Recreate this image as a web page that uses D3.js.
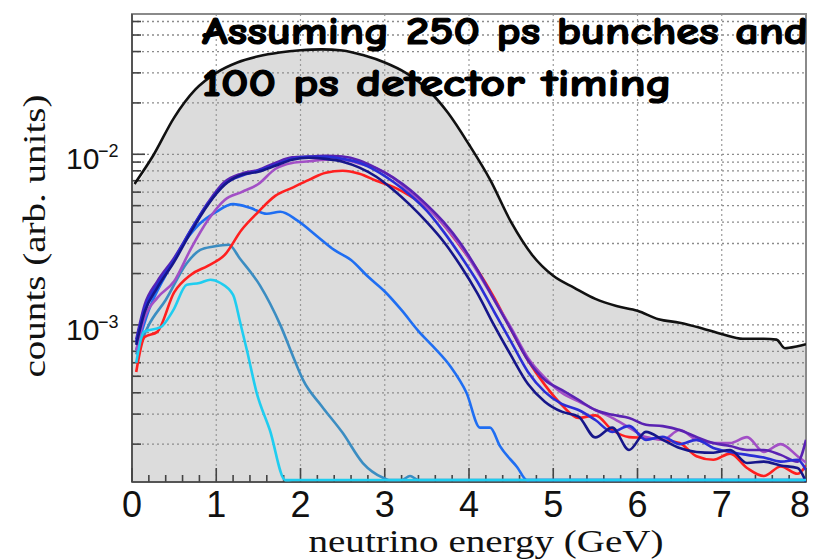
<!DOCTYPE html>
<html>
<head>
<meta charset="utf-8">
<script src="https://cdn.jsdelivr.net/npm/d3@7"></script>
<style>
  body { margin: 0; background: #fff; }
</style>
</head>
<body>
<svg id="chart" width="814" height="560"></svg>
<script>
// ---- data (energy in GeV, counts in arb. units) ----
const energyTotal = [0.03, 0.25, 0.5, 0.75, 1.0, 1.25, 1.5, 1.75, 2.0, 2.25, 2.5, 2.75, 3.0, 3.25, 3.5, 3.75,
  4.0, 4.25, 4.5, 4.75, 5.0, 5.25, 5.5, 5.75, 6.0, 6.25, 6.5, 6.75, 7.0, 7.25, 7.5, 7.65, 7.75, 7.9, 8.0]
const countsTotal = [6.7e-3, 9.8e-3, 1.64e-2, 2.39e-2, 3.0e-2, 3.45e-2, 3.75e-2, 3.95e-2, 4.07e-2, 4.12e-2, 4.06e-2,
  3.8e-2, 3.45e-2, 3.0e-2, 2.42e-2, 1.75e-2, 1.14e-2, 7.1e-3, 4.0e-3, 2.57e-3, 1.94e-3, 1.65e-3, 1.42e-3,
  1.29e-3, 1.21e-3, 1.08e-3, 1.03e-3, 9.6e-4, 8.85e-4, 8.3e-4, 8.3e-4, 8.2e-4, 7.3e-4, 7.5e-4, 7.7e-4]

// shared energy grid of the five upper curves
const energyBundle = [0.05, 0.15, 0.3, 0.5, 0.7, 0.9, 1.1, 1.3, 1.5, 1.7, 1.9, 2.1, 2.3, 2.5, 2.7, 2.9, 3.1, 3.3,
  3.5, 3.7, 3.9, 4.1, 4.3, 4.5, 4.7, 4.9, 5.1, 5.3, 5.5, 5.7, 5.9, 6.1, 6.3, 6.5, 6.7, 6.9, 7.1, 7.3, 7.5, 7.7, 7.9, 8.0]
const countsRed = [5.3e-4, 8.5e-4, 9.1e-4, 1.55e-3, 1.97e-3, 2.22e-3, 2.57e-3, 3.6e-3, 4.6e-3, 5.7e-3, 6.36e-3,
  7.08e-3, 7.8e-3, 8.0e-3, 7.68e-3, 6.99e-3, 6.44e-3, 5.7e-3, 4.9e-3, 3.86e-3, 2.87e-3, 2.1e-3, 1.44e-3, 9.35e-4,
  6.2e-4, 4.45e-4, 3.4e-4, 2.85e-4, 2.95e-4, 2.42e-4, 2.2e-4, 2.18e-4, 2.12e-4, 2.03e-4, 1.7e-4, 1.62e-4, 1.76e-4,
  1.45e-4, 1.3e-4, 1.48e-4, 1.34e-4, 1.5e-4]
const countsViolet = [7.1e-4, 1.1e-3, 1.44e-3, 1.8e-3, 2.8e-3, 4.1e-3, 5.4e-3, 6.0e-3, 6.7e-3, 8.2e-3, 8.9e-3,
  9.1e-3, 9.3e-3, 9.3e-3, 8.8e-3, 8.3e-3, 7.3e-3, 6.0e-3, 4.9e-3, 3.86e-3, 2.9e-3, 2.05e-3, 1.4e-3, 9.6e-4, 6.4e-4,
  4.9e-4, 4.0e-4, 3.56e-4, 3.17e-4, 2.85e-4, 2.5e-4, 2.2e-4, 2.12e-4, 2.42e-4, 2.12e-4, 2.03e-4, 2.03e-4, 2.2e-4,
  1.8e-4, 2.0e-4, 1.7e-4, 1.56e-4]
const countsIndigo = [8.2e-4, 1.31e-3, 1.8e-3, 2.47e-3, 3.6e-3, 5.2e-3, 6.9e-3, 7.7e-3, 8.1e-3, 8.9e-3, 9.6e-3,
  9.7e-3, 9.8e-3, 9.7e-3, 9.2e-3, 8.3e-3, 7.3e-3, 6.2e-3, 5.05e-3, 4.0e-3, 3.0e-3, 2.1e-3, 1.4e-3, 9.35e-4, 6.2e-4,
  4.76e-4, 4.16e-4, 3.63e-4, 3.17e-4, 2.97e-4, 2.85e-4, 2.6e-4, 2.55e-4, 2.42e-4, 2.2e-4, 2.03e-4, 1.95e-4, 1.85e-4,
  1.85e-4, 1.73e-4, 1.58e-4, 2.12e-4]
const countsRoyal = [7.95e-4, 1.26e-3, 1.72e-3, 2.41e-3, 3.61e-3, 5.12e-3, 6.7e-3, 7.48e-3, 8.0e-3, 8.68e-3, 9.4e-3,
  9.67e-3, 9.67e-3, 9.4e-3, 8.92e-3, 8.0e-3, 6.9e-3, 5.78e-3, 4.66e-3, 3.51e-3, 2.54e-3, 1.79e-3, 1.19e-3, 7.95e-4,
  5.3e-4, 4.05e-4, 3.44e-4, 3.17e-4, 2.77e-4, 2.36e-4, 2.56e-4, 2.12e-4, 2.21e-4, 2.0e-4, 2.12e-4, 1.9e-4, 1.8e-4,
  1.73e-4, 1.67e-4, 1.58e-4, 1.62e-4, 1.41e-4]
const countsNavy = [7.64e-4, 1.19e-3, 1.65e-3, 2.34e-3, 3.51e-3, 5.05e-3, 6.62e-3, 7.58e-3, 7.9e-3, 8.56e-3, 9.3e-3,
  9.55e-3, 9.4e-3, 9.05e-3, 8.35e-3, 7.38e-3, 6.19e-3, 5.05e-3, 4.0e-3, 3.07e-3, 2.22e-3, 1.53e-3, 9.9e-4, 6.6e-4,
  4.5e-4, 3.55e-4, 3.1e-4, 2.9e-4, 2.19e-4, 2.5e-4, 1.85e-4, 2.36e-4, 2.12e-4, 1.9e-4, 1.8e-4, 1.78e-4, 1.85e-4,
  1.55e-4, 1.58e-4, 1.5e-4, 1.45e-4, 1.2e-4]

const energyBlue = [0.05, 0.2, 0.4, 0.6, 0.8, 1.0, 1.2, 1.4, 1.6, 1.76, 1.96, 2.2, 2.4, 2.6, 2.8, 3.0, 3.2, 3.4,
  3.57, 3.78, 3.97, 4.13, 4.25, 4.37, 4.57, 4.69, 4.72, 8.0]
const countsBlue = [7.1e-4, 1.22e-3, 1.96e-3, 2.94e-3, 3.9e-3, 4.6e-3, 5.1e-3, 4.86e-3, 4.48e-3, 4.6e-3, 4.1e-3,
  3.3e-3, 2.75e-3, 2.4e-3, 1.92e-3, 1.57e-3, 1.22e-3, 9.2e-4, 7.5e-4, 5.7e-4, 4.0e-4, 2.5e-4, 2.5e-4, 1.94e-4,
  1.47e-4, 1.23e-4, 0, 0]

const energyTeal = [0.05, 0.2, 0.4, 0.65, 0.81, 0.97, 1.15, 1.28, 1.52, 1.76, 1.93, 2.03, 2.25, 2.5, 2.74, 2.98,
  3.05, 3.2, 3.3, 3.4, 8.0]
const countsTeal = [6.7e-4, 1.0e-3, 1.4e-3, 2.3e-3, 2.75e-3, 2.88e-3, 2.95e-3, 2.45e-3, 1.7e-3, 1.0e-3, 6.2e-4,
  4.76e-4, 3.35e-4, 2.33e-4, 1.55e-4, 1.27e-4, 0, 0, 1.3e-4, 0, 0]

const energyCyan = [0.05, 0.14, 0.34, 0.49, 0.65, 0.8, 0.93, 1.05, 1.2, 1.285, 1.364, 1.48, 1.636, 1.82, 1.9, 8.0]
const countsCyan = [6.0e-4, 9.1e-4, 9.7e-4, 1.22e-3, 1.72e-3, 1.76e-3, 1.84e-3, 1.76e-3, 1.5e-3, 1.03e-3, 7.1e-4,
  4.0e-4, 2.42e-4, 1.23e-4, 0, 0]

const xTickValues = [0, 1, 2, 3, 4, 5, 6, 7, 8]
const yDecades = [1e-3, 1e-2]
const yDomain = [1.2e-4, 0.0664]

const seriesList = [
  {name: 'cyan', color: '#1fcdf0', energy: energyCyan, counts: countsCyan},
  {name: 'teal', color: '#3b8dc2', energy: energyTeal, counts: countsTeal},
  {name: 'blue', color: '#1f6ef2', energy: energyBlue, counts: countsBlue},
  {name: 'red', color: '#ff1f1f', energy: energyBundle, counts: countsRed},
  {name: 'violet', color: '#a24fc6', energy: energyBundle, counts: countsViolet},
  {name: 'indigo', color: '#5a22b2', energy: energyBundle, counts: countsIndigo},
  {name: 'royal', color: '#2a2ed6', energy: energyBundle, counts: countsRoyal},
  {name: 'navy', color: '#16168a', energy: energyBundle, counts: countsNavy}
]

// ---- layout ----
const svg = d3.select('#chart')
const margin = {top: 14, right: 8, bottom: 78, left: 132}
const width = +svg.attr('width') - margin.left - margin.right
const height = +svg.attr('height') - margin.top - margin.bottom
const g = svg.append('g').attr('transform', `translate(${margin.left}, ${margin.top})`)

svg.append('defs').append('clipPath').attr('id', 'plotclip')
  .append('rect').attr('x', 0).attr('y', 0).attr('width', width).attr('height', height)

const x = d3.scaleLinear().domain([0, 8]).range([0, width])
const y = d3.scaleLog().domain(yDomain).range([height, 0])
// zero counts sit on the bottom edge, just above the axis line
const yv = v => v > 0 ? y(Math.max(v, yDomain[0])) : height - 2

const pairs = (es, cs) => es.map((e, i) => [e, cs[i]])

// grey area under the total spectrum
const area = d3.area()
  .x(d => x(d[0]))
  .y0(height)
  .y1(d => yv(d[1]))
  .curve(d3.curveMonotoneX)
const totalData = [[0, countsTotal[0]]].concat(pairs(energyTotal, countsTotal))
g.append('path')
  .datum(totalData)
  .attr('d', area)
  .attr('fill', '#dcdcdc')

// minor/major y tick values
const yTickAll = []
for (let p = -4; p <= -1; p++) {
  for (let k = 1; k <= 9; k++) {
    const v = k * Math.pow(10, p)
    if (v >= yDomain[0] && v <= yDomain[1]) yTickAll.push(v)
  }
}

// dotted grid
g.append('g').selectAll('line')
  .data(yTickAll)
  .join('line')
  .attr('x1', 0).attr('x2', width)
  .attr('y1', d => y(d)).attr('y2', d => y(d))
  .attr('stroke', '#8c8c8c')
  .attr('stroke-width', 1.3)
  .attr('stroke-dasharray', '2,3')
g.append('g').selectAll('line')
  .data(xTickValues.slice(1))
  .join('line')
  .attr('x1', d => x(d)).attr('x2', d => x(d))
  .attr('y1', 0).attr('y2', height)
  .attr('stroke', '#999')
  .attr('stroke-width', 1.2)
  .attr('stroke-dasharray', '2,3')

// frame
g.append('rect')
  .attr('width', width).attr('height', height)
  .attr('fill', 'none')
  .attr('stroke', '#8a8a8a')
  .attr('stroke-width', 2)
g.append('line')
  .attr('x1', 0).attr('x2', 0).attr('y1', 0).attr('y2', height)
  .attr('stroke', '#555').attr('stroke-width', 2)
g.append('line')
  .attr('x1', 0).attr('x2', width).attr('y1', height).attr('y2', height)
  .attr('stroke', '#555').attr('stroke-width', 2)

// ticks
g.append('g').selectAll('line')
  .data(yTickAll)
  .join('line')
  .attr('x1', 0)
  .attr('x2', d => yDecades.includes(d) ? 13 : 9)
  .attr('y1', d => y(d)).attr('y2', d => y(d))
  .attr('stroke', '#444').attr('stroke-width', 1.6)

const xMinor = d3.range(0, 8.001, 0.2).map(v => +v.toFixed(1))
g.append('g').selectAll('line')
  .data(xMinor)
  .join('line')
  .attr('x1', d => x(d)).attr('x2', d => x(d))
  .attr('y1', height)
  .attr('y2', d => Number.isInteger(d) ? height - 14 : height - 7)
  .attr('stroke', '#444').attr('stroke-width', 1.6)

// curves
const line = d3.line()
  .x(d => x(d[0]))
  .y(d => yv(d[1]))
  .curve(d3.curveMonotoneX)

const curves = g.append('g').attr('clip-path', 'url(#plotclip)')
const drawOrder = ['teal', 'blue', 'red', 'violet', 'indigo', 'royal', 'navy', 'cyan']
drawOrder.forEach(name => {
  const s = seriesList.find(d => d.name === name)
  curves.append('path')
    .datum(pairs(s.energy, s.counts))
    .attr('d', line)
    .attr('fill', 'none')
    .attr('stroke', s.color)
    .attr('stroke-width', 2.6)
    .attr('stroke-linejoin', 'round')
})

curves.append('path')
  .datum(pairs(energyTotal, countsTotal))
  .attr('d', line)
  .attr('fill', 'none')
  .attr('stroke', '#111')
  .attr('stroke-width', 2.6)

// x tick labels (last one pulled in so it stays on the page)
g.append('g').selectAll('text')
  .data(xTickValues)
  .join('text')
  .attr('x', d => x(d) - (d === 8 ? 6 : 0))
  .attr('y', height + 35)
  .attr('text-anchor', 'middle')
  .attr('font-family', 'Liberation Sans, Arial, sans-serif')
  .attr('font-size', 36)
  .attr('fill', '#111')
  .text(d => d)

// y tick labels 10^-n
const yLab = g.append('g').selectAll('g')
  .data(yDecades)
  .join('g')
  .attr('transform', d => `translate(-14, ${y(d) + 15})`)
yLab.append('text')
  .attr('x', -52)
  .attr('font-family', 'Liberation Sans, Arial, sans-serif')
  .attr('font-size', 30)
  .attr('fill', '#111')
  .text('10')
yLab.append('text')
  .attr('x', -20)
  .attr('y', -12)
  .attr('font-family', 'Liberation Sans, Arial, sans-serif')
  .attr('font-size', 18)
  .attr('fill', '#111')
  .text(d => '\u2212' + Math.round(-Math.log10(d)))

// axis titles
svg.append('text')
  .attr('x', 486)
  .attr('y', 552)
  .attr('text-anchor', 'middle')
  .attr('font-family', 'Liberation Serif, Times New Roman, serif')
  .attr('font-size', 31)
  .attr('textLength', 355)
  .attr('lengthAdjust', 'spacingAndGlyphs')
  .attr('fill', '#111')
  .text('neutrino energy (GeV)')

svg.append('text')
  .attr('transform', 'translate(45, 236) rotate(-90)')
  .attr('text-anchor', 'middle')
  .attr('font-family', 'Liberation Serif, Times New Roman, serif')
  .attr('font-size', 31)
  .attr('textLength', 283)
  .attr('lengthAdjust', 'spacingAndGlyphs')
  .attr('fill', '#111')
  .text('counts (arb. units)')

// annotation
const noteLines = ['Assuming 250 ps bunches and', '100 ps detector timing']
const noteWidths = [606, 470]
svg.append('g').selectAll('text')
  .data(noteLines)
  .join('text')
  .attr('x', 202)
  .attr('y', (d, i) => 44 + i * 52)
  .attr('font-family', "'Comic Sans MS', 'Comic Neue', 'Open Sans', sans-serif")
  .attr('font-weight', 'bold')
  .attr('font-size', 38)
  .attr('textLength', (d, i) => noteWidths[i])
  .attr('lengthAdjust', 'spacingAndGlyphs')
  .attr('fill', '#000')
  .attr('stroke', '#000')
  .attr('stroke-width', 1.2)
  .attr('stroke-linejoin', 'round')
  .text(d => d)
</script>
</body>
</html>
